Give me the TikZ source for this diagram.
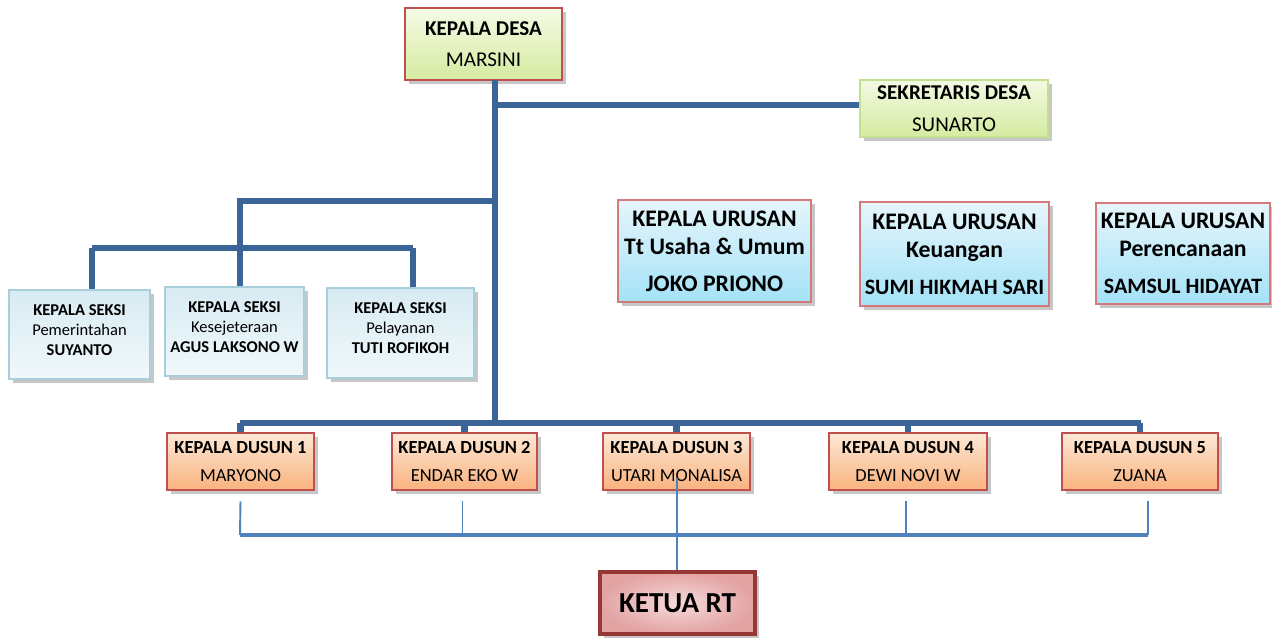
\documentclass[tikz,border=0pt]{standalone}
\usepackage{fontspec}
\setmainfont{Carlito}
\usetikzlibrary{shadows}
\definecolor{trunk}{HTML}{3B6497}
\definecolor{thin}{HTML}{4F81BD}
\definecolor{redb}{HTML}{C0504D}
\definecolor{pinkb}{HTML}{D47A7A}
\definecolor{greenb}{HTML}{C3DF91}
\definecolor{blueb}{HTML}{A6CEDB}
\definecolor{rtb}{HTML}{953735}
\definecolor{gtop}{HTML}{F5FAE6}
\definecolor{gbot}{HTML}{D5EBA0}
\definecolor{gtop2}{HTML}{F3F9E3}
\definecolor{utop}{HTML}{E6F5FB}
\definecolor{ubot}{HTML}{A3E2F7}
\definecolor{stop}{HTML}{D8EBF2}
\definecolor{sbot}{HTML}{F0F8FB}
\definecolor{dtop}{HTML}{FDE8D6}
\definecolor{dbot}{HTML}{F9B27E}
\definecolor{rin}{HTML}{F6DADA}
\definecolor{rout}{HTML}{E3A3A3}
\newcommand{\urname}{\fontsize{12.5}{15}\selectfont}
\tikzset{
  rectat/.style n args={4}{at={({(#1+#3)/2},{(#2+#4)/2})},minimum width={(#3-#1)*0.02cm},minimum height={(#4-#2)*0.02cm}},
  shad/.style={drop shadow={shadow xshift=2.5pt,shadow yshift=-2.5pt,fill=black,opacity=0.22}},
  basebox/.style={inner sep=0pt,align=center,shad},
  desabox/.style={basebox,draw=redb,line width=1.5pt,top color=gtop,bottom color=gbot,font=\fontsize{12}{14.4}\selectfont},
  sekbox/.style={basebox,draw=greenb,line width=1.3pt,top color=gtop2,bottom color=gbot,font=\fontsize{12}{14.4}\selectfont},
  urbox/.style={basebox,draw=pinkb,line width=1.2pt,top color=utop,bottom color=ubot,font=\bfseries\fontsize{13.5}{16}\selectfont},
  seksibox/.style={basebox,draw=blueb,line width=1.5pt,top color=stop,bottom color=sbot,font=\fontsize{9.4}{11.3}\selectfont},
  dusunbox/.style={basebox,draw=redb,line width=1.5pt,top color=dtop,bottom color=dbot,font=\fontsize{10.5}{12.6}\selectfont},
  rtbox/.style={basebox,draw=rtb,line width=2.3pt,inner color=rin,outer color=rout,font=\bfseries\fontsize{16.5}{19}\selectfont},
  trunkline/.style={draw=trunk,line width=3.8pt},
  thinline/.style={draw=thin,line width=1.1pt},
  thinbar/.style={draw=thin,line width=2pt}
}
\begin{document}
\begin{tikzpicture}[x=0.02cm,y=-0.02cm]
\useasboundingbox (0,0) rectangle (1272,639);
% coordinates for junctions
\coordinate (top) at (495,80);
\coordinate (jsek) at (495,105);
\coordinate (jseksi) at (495,201);
\coordinate (sk2top) at (240,201);
\coordinate (skL) at (92,248);
\coordinate (skR) at (413,248);
\coordinate (jdus) at (495,423);
\coordinate (dusL) at (240,423);
\coordinate (dusR) at (1141,423);
\coordinate (bL) at (240,535);
\coordinate (bR) at (1148,535);
\coordinate (rtup) at (677,478);

% boxes
\node[desabox,rectat={405}{8}{562}{80}] (desa) {\textbf{KEPALA DESA}\\[3.6pt]MARSINI};
\node[sekbox,rectat={860}{80}{1048}{137}] (sek) {\textbf{SEKRETARIS DESA}\\[3.6pt]SUNARTO};

\node[urbox,rectat={618}{200}{811}{302}] (ur1) {KEPALA URUSAN\\Tt Usaha \& Umum\\[5pt]JOKO PRIONO};
\node[urbox,rectat={860}{202}{1049}{306}] (ur2) {KEPALA URUSAN\\Keuangan\\[5pt]{\urname SUMI HIKMAH SARI}};
\node[urbox,rectat={1096}{203}{1270}{304}] (ur3) {KEPALA URUSAN\\Perencanaan\\[5pt]{\urname SAMSUL HIDAYAT}};

\node[seksibox,rectat={9}{290}{150}{379}] (sk1) {\textbf{KEPALA SEKSI}\\Pemerintahan\\\textbf{SUYANTO}\\[-6pt]};
\node[seksibox,rectat={165}{287}{304}{376}] (sk2) {\textbf{KEPALA SEKSI}\\Kesejeteraan\\\textbf{AGUS LAKSONO W}\\[-6pt]};
\node[seksibox,rectat={327}{288}{474}{378}] (sk3) {\textbf{KEPALA SEKSI}\\Pelayanan\\\textbf{TUTI ROFIKOH}\\[-6pt]};

\node[dusunbox,rectat={167}{433}{314}{490}] (d1) {\textbf{KEPALA DUSUN 1}\\[3.8pt]MARYONO};
\node[dusunbox,rectat={392}{433}{537}{490}] (d2) {\textbf{KEPALA DUSUN 2}\\[3.8pt]ENDAR EKO W};
\node[dusunbox,rectat={603}{433}{750}{490}] (d3) {\textbf{KEPALA DUSUN 3}\\[3.8pt]UTARI MONALISA};
\node[dusunbox,rectat={829}{433}{987}{490}] (d4) {\textbf{KEPALA DUSUN 4}\\[3.8pt]DEWI NOVI W};
\node[dusunbox,rectat={1062}{433}{1218}{490}] (d5) {\textbf{KEPALA DUSUN 5}\\[3.8pt]ZUANA};

\node[rtbox,rectat={600}{572}{755}{634}] (rt) {KETUA RT};

% trunk lines
\path[trunkline] (top) -- (jdus);
\path[trunkline] (jsek) -- (jsek -| sek.west);
\path[trunkline] (jseksi) -- (sk2top) -- (sk2top |- sk2.north);
\path[trunkline] (skL) -- (skR);
\path[trunkline] (skL) -- (skL |- sk1.north);
\path[trunkline] (skR) -- (skR |- sk3.north);
\path[trunkline] (dusL) -- (dusR);
\foreach \d in {d1,d2,d3,d4,d5}{\path[trunkline] (dusL -| \d.north) -- (\d.north);}

% thin lines to Ketua RT
\path[thinline] ([yshift=-10*0.02cm]d1.south) -- (bL);
\path[thinline] ([xshift=-2*0.02cm,yshift=-10*0.02cm]d2.south) -- ++(0,35);
\path[thinline] ([xshift=-2*0.02cm,yshift=-10*0.02cm]d4.south) -- ++(0,35);
\path[thinline] ([xshift=8*0.02cm,yshift=-10*0.02cm]d5.south) -- (bR);
\path[thinline] (rtup) -- (rtup |- rt.north);
\path[thinbar] (bL) -- (bR);
\end{tikzpicture}
\end{document}
